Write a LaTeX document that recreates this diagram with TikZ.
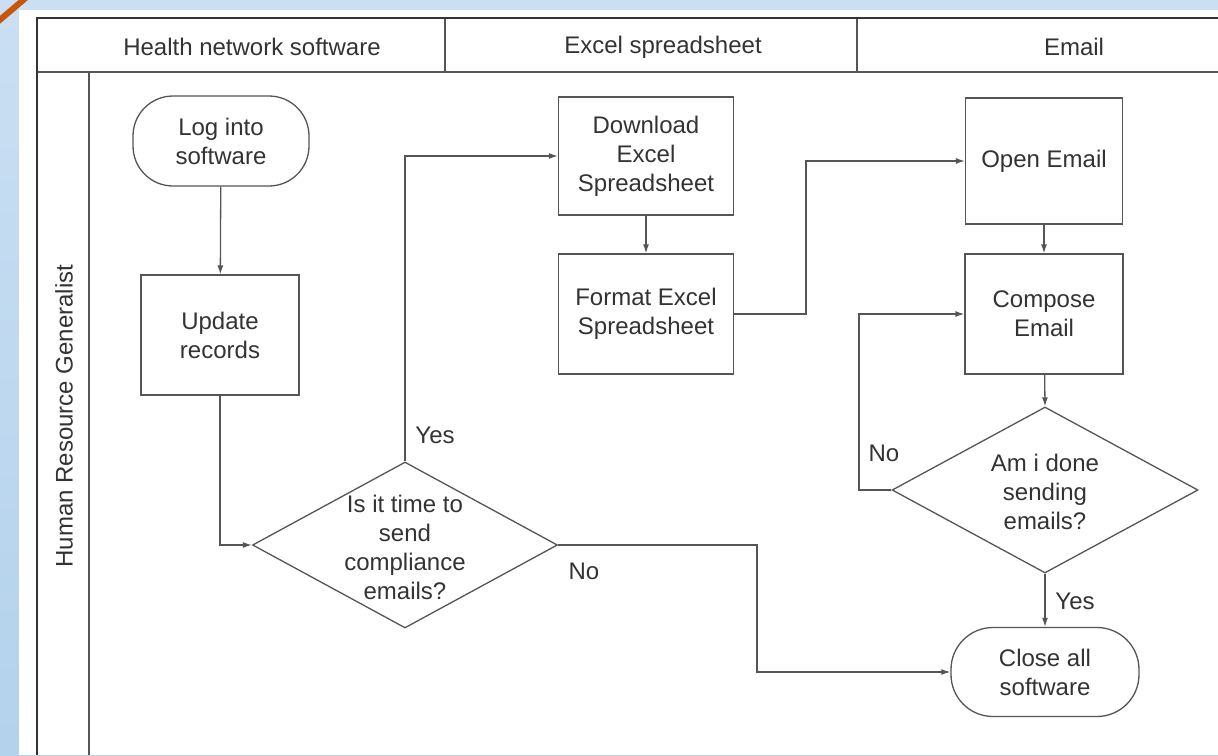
\documentclass[tikz,border=0pt]{standalone}
\usepackage{fontspec}
\setmainfont{Liberation Sans}
\usetikzlibrary{calc,positioning,arrows.meta,shapes.geometric}

\definecolor{bgtop}{HTML}{CADFF3}
\definecolor{bgbot}{HTML}{B3D2EC}
\definecolor{edge}{HTML}{555555}
\definecolor{ink}{HTML}{333333}
\definecolor{corner}{HTML}{C8560A}

\begin{document}
\begin{tikzpicture}[x=1pt,y=-1pt,
    txt/.style={font=\fontsize{24}{29}\selectfont,text=ink,align=center},
    proc/.style={txt,draw=edge,line width=1.3pt,rectangle,inner sep=0pt},
    term/.style={proc,rounded corners=40pt},
    dec/.style={draw=edge,line width=1.3pt,diamond,inner sep=0pt},
    lane/.style={draw=edge,line width=1.6pt},
    flow/.style={draw=edge,line width=1.3pt,->},
    >={Latex[length=9pt,width=6pt]}]
  \useasboundingbox (0,0) rectangle (1218,755);
  % background
  \shade[top color=bgtop,bottom color=bgbot] (0,0) rectangle (1218,755);
  \fill[white] (19,10) rectangle (1218,755);
  \draw[corner,line width=6pt] (-5,24) -- (28,-4);

  % swimlane table
  \draw[lane] (37,72) -- (1218,72);
  \draw[lane] (445,18) -- (445,72);
  \draw[lane] (857,18) -- (857,72);
  \draw[lane] (89,72) -- (89,755);
  \draw[ink,line width=2.5pt] (37,755) -- (37,18) -- (1218,18);
  \node[txt] (h1) at (252,47) {Health network software};
  \node[txt] (h2) at (663,47) {Excel spreadsheet};
  \node[txt] (h3) at (1074,47) {Email};
  \node[txt,rotate=90] (role) at (64,416) {Human Resource Generalist};

  % steps
  \node[term,minimum width=176,minimum height=90] (log) at (221,141) {Log into\\software};
  \node[proc,minimum width=158,minimum height=120] (upd) at (220,335) {Update\\records};
  \node[dec,minimum width=305,minimum height=166] (dec1) at (405,545) {};
  \node[txt] (dec1txt) at (405,547) {Is it time to\\send\\compliance\\emails?};
  \node[proc,minimum width=175,minimum height=118] (dl) at (646,156) {Download\\Excel\\Spreadsheet};
  \node[proc,minimum width=175,minimum height=120] (fmt) at (646,314) {Format Excel\\Spreadsheet};
  \node[proc,minimum width=157,minimum height=126] (open) at (1044,161) {Open Email};
  \node[proc,minimum width=158,minimum height=120] (comp) at (1044,314) {Compose\\Email};
  \node[dec,minimum width=306,minimum height=166] (dec2) at (1045,490) {};
  \node[txt] (dec2txt) at (1045,492) {Am i done\\sending\\emails?};
  \node[term,minimum width=188,minimum height=89,rounded corners=42pt] (close) at (1045,672) {Close all\\software};

  \coordinate (bendA) at (757,0);
  \coordinate (bendB) at (806,0);
  \coordinate (bendC) at (859,0);

  % connectors
  \draw[flow] (log) -- (upd);
  \draw[flow] (upd.south) |- (dec1.west);
  \draw[flow] (dec1.north) |- (dl.west);
  \draw[flow] (dec1.east) -- (dec1.east -| bendA) -- (bendA |- close.west) -- (close.west);
  \draw[flow] (dl) -- (fmt);
  \draw[flow] (fmt.east) -- (fmt.east -| bendB) -- (bendB |- open.west) -- (open.west);
  \draw[flow] (open) -- (comp);
  \draw[flow] (comp) -- (dec2.north);
  \draw[flow] (dec2.west) -- (dec2.west -| bendC) -- (bendC |- comp.west) -- (comp.west);
  \draw[flow] (dec2.south) -- (close);

  \node[txt] (yes1) at (435,435) {Yes};
  \node[txt] (no1) at (584,571) {No};
  \node[txt] (no2) at (884,453) {No};
  \node[txt] (yes2) at (1075,601) {Yes};
\end{tikzpicture}
\end{document}
